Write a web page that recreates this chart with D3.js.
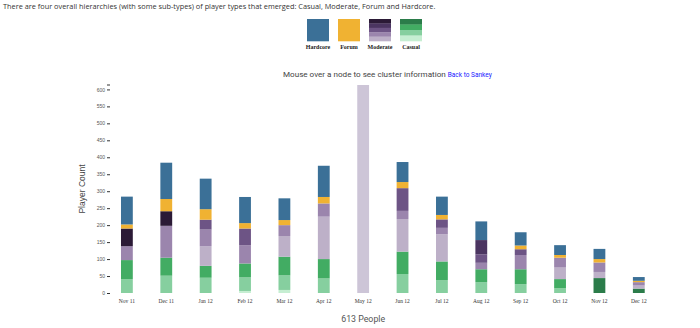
<!DOCTYPE html>
<html><head><meta charset="utf-8">
<script src="https://cdn.jsdelivr.net/npm/d3@7"></script>
<style>
body{margin:0;background:#fff;}
svg{display:block;}
</style></head>
<body>
<svg id="c" width="700" height="328"></svg>
<script>
const months = ["Nov 11","Dec 11","Jan 12","Feb 12","Mar 12","Apr 12","May 12","Jun 12","Jul 12","Aug 12","Sep 12","Oct 12","Nov 12","Dec 12"];
const casualLightest = [0,0,0,6,9,0,0,0,0,0,0,0,0,0];
const casualLight    = [41,51,45,40,43,43,0,56,38,32,26,14,0,0];
const casualMid      = [56,53,35,41,55,57,0,66,55,38,44,27,0,0];
const casualDark     = [0,0,0,0,0,0,0,0,0,0,0,0,44,13];
const moderate1      = [0,0,58,0,61,125,0,96,80,0,0,34,18,9];
const moderate2      = [41,94,49,54,32,39,0,24,19,19,42,29,28,10];
const moderate3      = [0,0,29,49,0,0,0,67,25,25,17,0,0,0];
const moderate4      = [0,0,0,0,0,0,0,0,0,42,0,0,0,0];
const moderate5      = [52,43,0,0,0,0,0,0,0,0,0,0,0,0];
const forum          = [12,36,31,16,15,19,0,18,13,0,11,8,10,4];
const hardcore       = [82,107,90,77,64,92,0,59,54,55,39,29,30,11];
const selectedNode   = [0,0,0,0,0,0,613,0,0,0,0,0,0,0];
const yTicks = [0,50,100,150,200,250,300,350,400,450,500,550,600];
const yMax = 613;
const legendNames = ["Hardcore","Forum","Moderate","Casual"];

const seriesList = [
  {key:"casualLightest", values:casualLightest, color:"#c6eed2"},
  {key:"casualLight", values:casualLight, color:"#86cf9f"},
  {key:"casualMid", values:casualMid, color:"#42ac63"},
  {key:"casualDark", values:casualDark, color:"#2b7c4a"},
  {key:"moderate1", values:moderate1, color:"#bdb0c8"},
  {key:"moderate2", values:moderate2, color:"#9b85ad"},
  {key:"moderate3", values:moderate3, color:"#6d5485"},
  {key:"moderate4", values:moderate4, color:"#4b3561"},
  {key:"moderate5", values:moderate5, color:"#2b1a36"},
  {key:"forum", values:forum, color:"#f0b232"},
  {key:"hardcore", values:hardcore, color:"#3b7097"},
  {key:"selected", values:selectedNode, color:"#cdc5d7"}
];
const table = months.map((m,i)=>{const o={month:m}; seriesList.forEach(s=>o[s.key]=s.values[i]); return o;});
const stack = d3.stack().keys(seriesList.map(s=>s.key))(table);

const svg = d3.select("#c");

svg.append("text").attr("x",3).attr("y",9)
  .style("font-family","'Open Sans', sans-serif").style("font-size","7.35px").attr("fill","#333")
  .text("There are four overall hierarchies (with some sub-types) of player types that emerged: Casual, Moderate, Forum and Hardcore.");

// legend
const legendFills = {
  "Hardcore":["#3b7097"],
  "Forum":["#f0b232"],
  "Moderate":["#2b1a36","#4b3561","#6d5485","#9b85ad","#bdb0c8"],
  "Casual":["#2b7c4a","#42ac63","#86cf9f","#c6eed2"]
};
const lg = svg.append("g");
legendNames.forEach((name,i)=>{
  const x0 = 307 + i*31, y0 = 19, w = 22, h = 22;
  const cols = legendFills[name];
  const bh = h/cols.length;
  cols.forEach((c,j)=>{
    lg.append("rect").attr("x",x0).attr("y",y0+j*bh).attr("width",w).attr("height",bh+0.3).attr("fill",c);
  });
  lg.append("text").attr("x",x0+w/2).attr("y",49).attr("text-anchor","middle")
    .style("font-family","'Liberation Serif', serif").style("font-size","6px").style("font-weight","bold")
    .attr("fill","#222").text(name);
});

// title
const t = svg.append("text").attr("x",283).attr("y",77)
  .style("font-family","Roboto, 'Liberation Sans', sans-serif").attr("fill","#444");
t.append("tspan").style("font-size","8.1px").text("Mouse over a node to see cluster information ");
t.append("tspan").style("font-size","6.5px").attr("fill","#1a1aff").text("Back to Sankey");

const x = d3.scaleBand().domain(months).range([101.3,664.4]).paddingInner(0.7).paddingOuter(0.5);
const y = d3.scaleLinear().domain([0,yMax]).range([293,85]);

// y axis
const yAxis = d3.axisLeft(y).tickValues(yTicks).tickSize(3).tickSizeOuter(0).tickPadding(2);
const ya = svg.append("g").attr("transform","translate(110,0)").call(yAxis);
ya.select(".domain").remove();
ya.selectAll("text").style("font-family","'Liberation Sans', sans-serif").style("font-size","5px").attr("fill","#555");
ya.selectAll("line").attr("stroke","#333");
ya.append("line").attr("x1",-3).attr("x2",0).attr("y1",y(yMax)).attr("y2",y(yMax)).attr("stroke","#333");

svg.append("text").attr("transform","translate(85,189) rotate(-90)").attr("text-anchor","middle")
  .style("font-family","'Liberation Sans', sans-serif").style("font-size","8.5px").attr("fill","#444").text("Player Count");

// bars
const colorOf = {}; seriesList.forEach(s=>colorOf[s.key]=s.color);
svg.append("g").selectAll("g").data(stack).join("g").attr("fill",d=>colorOf[d.key])
  .selectAll("rect").data(d=>d.filter(p=>p[1]-p[0]>0)).join("rect")
  .attr("x",d=>x(d.data.month)).attr("width",x.bandwidth())
  .attr("y",d=>y(d[1])).attr("height",d=>y(d[0])-y(d[1]));

// x axis
const xAxis = d3.axisBottom(x).tickSize(0).tickPadding(5);
const xa = svg.append("g").attr("transform","translate(0,294)").call(xAxis);
xa.select(".domain").remove();
xa.selectAll("text").style("font-family","'Liberation Serif', serif").style("font-size","5.5px").attr("fill","#333");

svg.append("text").attr("x",x("May 12")+x.bandwidth()/2).attr("y",322).attr("text-anchor","middle")
  .style("font-family","Roboto, 'Liberation Sans', sans-serif").style("font-size","8.8px").attr("fill","#555").text("613 People");
</script>
</body></html>
